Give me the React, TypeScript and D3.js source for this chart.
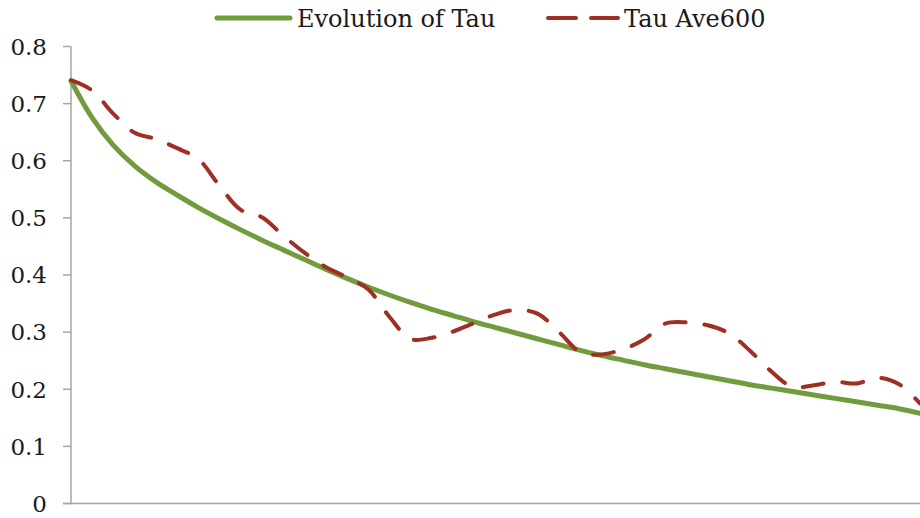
import React from "react";
import * as d3 from "d3";

// x positions are sample indices (0..40), evenly spaced along the run
const steps: number[] = d3.range(41);

const evolutionOfTau: number[] = [
  0.740, 0.675, 0.627, 0.591, 0.563, 0.540, 0.518, 0.498, 0.479, 0.461,
  0.444, 0.427, 0.410, 0.394, 0.379, 0.365, 0.352, 0.340, 0.329, 0.318,
  0.308, 0.298, 0.288, 0.278, 0.268, 0.259, 0.251, 0.243, 0.236, 0.229,
  0.222, 0.215, 0.208, 0.202, 0.196, 0.190, 0.184, 0.178, 0.172, 0.166,
  0.158,
];

const tauAve600: number[] = [
  0.741, 0.723, 0.682, 0.649, 0.638, 0.622, 0.603, 0.556, 0.514, 0.501,
  0.469, 0.439, 0.414, 0.396, 0.375, 0.327, 0.288, 0.290, 0.301, 0.316,
  0.331, 0.339, 0.332, 0.300, 0.265, 0.261, 0.270, 0.287, 0.315, 0.317,
  0.312, 0.298, 0.267, 0.231, 0.204, 0.207, 0.213, 0.210, 0.220, 0.209,
  0.175,
];

const yTicks: number[] = [0, 0.1, 0.2, 0.3, 0.4, 0.5, 0.6, 0.7, 0.8];
const seriesNames: string[] = ["Evolution of Tau", "Tau Ave600"];

const W = 920;
const H = 518;
const FONT = "'DejaVu Serif', serif";
const GREEN = "#729b3d";
const RED = "#9e2f22";
const AXIS = "#a6a6a6";

export default function App() {
  const x = d3.scaleLinear().domain([0, 40]).range([71, 920]);
  const y = d3.scaleLinear().domain([0, 0.8]).range([503.5, 46.5]);

  const greenPath = d3
    .line<number>()
    .x((_, i) => x(steps[i]))
    .y((d) => y(d))
    .curve(d3.curveCatmullRom.alpha(0.5))(evolutionOfTau) as string;

  const redPath = d3
    .line<number>()
    .x((_, i) => x(steps[i]))
    .y((d) => y(d))
    .curve(d3.curveCatmullRom.alpha(0.5))(tauAve600) as string;

  const fmt = (v: number) => (v === 0 ? "0" : v.toFixed(1));

  return (
    <svg
      width={W}
      height={H}
      viewBox={`0 0 ${W} ${H}`}
      style={{ position: "absolute", left: 0, top: 0, display: "block", background: "#fff" }}
    >
      <rect x={0} y={0} width={W} height={H} fill="#fff" />
      {/* y axis */}
      <line x1={71} x2={71} y1={y(0.8)} y2={y(0)} stroke={AXIS} strokeWidth={1.5} />
      {yTicks.map((t) => (
        <g key={t}>
          <line x1={63} x2={71} y1={y(t)} y2={y(t)} stroke={AXIS} strokeWidth={1.5} />
          <text
            x={47}
            y={y(t)}
            dy="0.36em"
            textAnchor="end"
            fontFamily={FONT}
            fontSize={23}
            fill="#1a1a1a"
          >
            {fmt(t)}
          </text>
        </g>
      ))}
      {/* x axis */}
      <line x1={63} x2={920} y1={y(0)} y2={y(0)} stroke={AXIS} strokeWidth={1.5} />

      {/* series */}
      <path d={greenPath} fill="none" stroke={GREEN} strokeWidth={5} strokeLinecap="round" />
      <path
        d={redPath}
        fill="none"
        stroke={RED}
        strokeWidth={4}
        strokeLinecap="round"
        strokeDasharray="21 19"
      />

      {/* legend */}
      <line x1={217} x2={290} y1={18} y2={18} stroke={GREEN} strokeWidth={5} strokeLinecap="round" />
      <text x={297} y={27} fontFamily={FONT} fontSize={24} fill="#1a1a1a">
        {seriesNames[0]}
      </text>
      <line x1={548} x2={576} y1={18} y2={18} stroke={RED} strokeWidth={4} strokeLinecap="round" />
      <line x1={591} x2={618} y1={18} y2={18} stroke={RED} strokeWidth={4} strokeLinecap="round" />
      <text x={624} y={27} fontFamily={FONT} fontSize={24} fill="#1a1a1a">
        {seriesNames[1]}
      </text>
    </svg>
  );
}
